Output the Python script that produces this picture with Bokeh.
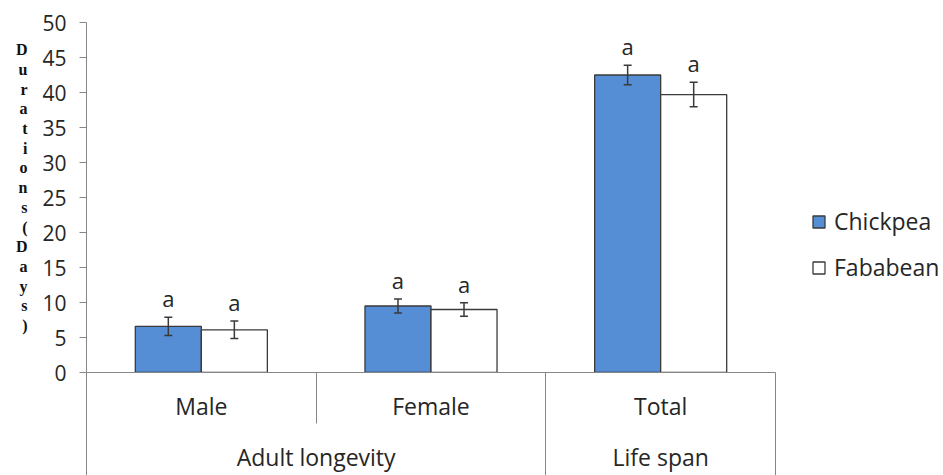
from bokeh.plotting import figure
from bokeh.models import (Range1d, LinearAxis, FixedTicker, ColumnDataSource, Whisker,
                          TeeHead, Legend, LegendItem)
from bokeh.core.properties import value
from bokeh.embed import file_html
from bokeh.resources import INLINE

# ---------------- data ----------------
categories = ["Male", "Female", "Total"]
groups = ["Adult longevity", "Life span"]
group_sizes = [2, 1]
series_names = ["Chickpea", "Fababean"]
chickpea = [6.6, 9.5, 42.5]
chickpea_err = [1.3, 1.0, 1.4]
fababean = [6.1, 9.0, 39.7]
fababean_err = [1.25, 0.95, 1.75]
chickpea_sig = ["a", "a", "a"]
fababean_sig = ["a", "a", "a"]
y_ticks = [0, 5, 10, 15, 20, 25, 30, 35, 40, 45, 50]
y_title = "Durations (Days)"

# ---------------- style / layout ----------------
FONT = "Open Sans"
TXT = "#262626"
AXIS = "#868686"
BLUE = "#558ED5"
EDGE = "#3a3a3a"
BAR_W = 0.2875
W, H = 943, 475
LEFT, TOP, BOTTOM = 86, 22, 101
PLOT_RIGHT = 775          # right edge of the category table

n = len(categories)
centers = [i + 0.5 for i in range(n)]
bounds = [float(i) for i in range(n + 1)]
g_bounds = [0.0]
for s in group_sizes:
    g_bounds.append(g_bounds[-1] + s)
g_centers = [(g_bounds[i] + g_bounds[i + 1]) / 2 for i in range(len(groups))]
x_end = n * (W - LEFT) / (PLOT_RIGHT - LEFT)   # frame also holds the legend area

p = figure(width=W, height=H, output_backend="svg", toolbar_location=None,
           x_range=Range1d(0, x_end), y_range=Range1d(0, 50),
           x_axis_location=None, y_axis_location=None,
           min_border_left=LEFT, min_border_top=TOP, min_border_right=0,
           min_border_bottom=BOTTOM)
p.outline_line_color = None
p.xgrid.visible = False
p.ygrid.visible = False
p.background_fill_color = "white"
p.border_fill_color = "white"

# y axis with stacked title
yax = LinearAxis(ticker=FixedTicker(ticks=y_ticks))
yax.axis_line_color = AXIS
yax.major_tick_line_color = AXIS
yax.major_tick_out = 7
yax.major_tick_in = 0
yax.minor_tick_line_color = None
yax.major_label_standoff = 13
yax.major_label_text_font = FONT
yax.major_label_text_font_size = "21px"
yax.major_label_text_color = TXT
yax.axis_label = "\n".join(ch for ch in y_title if ch != " ") + "\n"
yax.axis_label_orientation = "horizontal"
yax.axis_label_text_font = "Liberation Serif"
yax.axis_label_text_font_style = "bold"
yax.axis_label_text_font_size = "16px"
yax.axis_label_text_line_height = 1.16
yax.axis_label_text_color = "#111111"
yax.axis_label_text_align = "center"
yax.axis_label_standoff = 12
p.add_layout(yax, "left")

# x axis: category row (minor ticks draw the table dividers)
xax = LinearAxis(ticker=FixedTicker(ticks=centers, minor_ticks=bounds), bounds=(0, n))
xax.major_label_overrides = {c: lab for c, lab in zip(centers, categories)}
xax.axis_line_color = AXIS
xax.major_tick_line_color = None
xax.major_tick_out = 0
xax.major_tick_in = 0
xax.minor_tick_line_color = AXIS
xax.minor_tick_out = 51
xax.minor_tick_in = 0
xax.major_label_standoff = -34
xax.major_label_text_font = FONT
xax.major_label_text_font_size = "23px"
xax.major_label_text_color = TXT
p.add_layout(xax, "below")

# x axis: group row
gax = LinearAxis(ticker=FixedTicker(ticks=g_centers, minor_ticks=g_bounds), bounds=(0, n))
gax.major_label_overrides = {c: lab for c, lab in zip(g_centers, groups)}
gax.axis_line_color = None
gax.major_tick_line_color = None
gax.major_tick_out = 0
gax.major_tick_in = 0
gax.minor_tick_line_color = AXIS
gax.minor_tick_out = 60
gax.minor_tick_in = 2
gax.major_label_standoff = -44
gax.major_label_text_font = FONT
gax.major_label_text_font_size = "23px"
gax.major_label_text_color = TXT
p.add_layout(gax, "below")

# bars
src_c = ColumnDataSource(dict(x=[c - BAR_W / 2 for c in centers], top=chickpea,
                              lo=[v - e for v, e in zip(chickpea, chickpea_err)],
                              hi=[v + e for v, e in zip(chickpea, chickpea_err)],
                              sig=chickpea_sig))
src_f = ColumnDataSource(dict(x=[c + BAR_W / 2 for c in centers], top=fababean,
                              lo=[v - e for v, e in zip(fababean, fababean_err)],
                              hi=[v + e for v, e in zip(fababean, fababean_err)],
                              sig=fababean_sig))
r_c = p.vbar(x="x", top="top", width=BAR_W, source=src_c, fill_color=BLUE,
             line_color=EDGE, line_width=1.3)
r_f = p.vbar(x="x", top="top", width=BAR_W, source=src_f, fill_color="white",
             line_color=EDGE, line_width=1.3)

for src in (src_c, src_f):
    w = Whisker(source=src, base="x", lower="lo", upper="hi", level="overlay",
                line_color=EDGE, line_width=1.5,
                upper_head=TeeHead(size=8, line_color=EDGE, line_width=1.5),
                lower_head=TeeHead(size=8, line_color=EDGE, line_width=1.5))
    p.add_layout(w)
    p.text(x="x", y="hi", text="sig", source=src, text_align="center",
           text_baseline="alphabetic", y_offset=-19, text_font=value(FONT),
           text_font_size="22px", text_color=TXT)

# legend (inside the wide frame, to the right of the table)
legend = Legend(items=[LegendItem(label=series_names[0], renderers=[r_c]),
                       LegendItem(label=series_names[1], renderers=[r_f])],
                location=(725, 89), orientation="vertical",
                glyph_width=15, glyph_height=15, label_standoff=8, spacing=14,
                padding=0, margin=0, border_line_color=None, background_fill_alpha=0,
                label_text_font=FONT, label_text_font_size="23px", label_text_color=TXT)
p.add_layout(legend, "center")

open("out.html", "w").write(file_html(p, INLINE))
